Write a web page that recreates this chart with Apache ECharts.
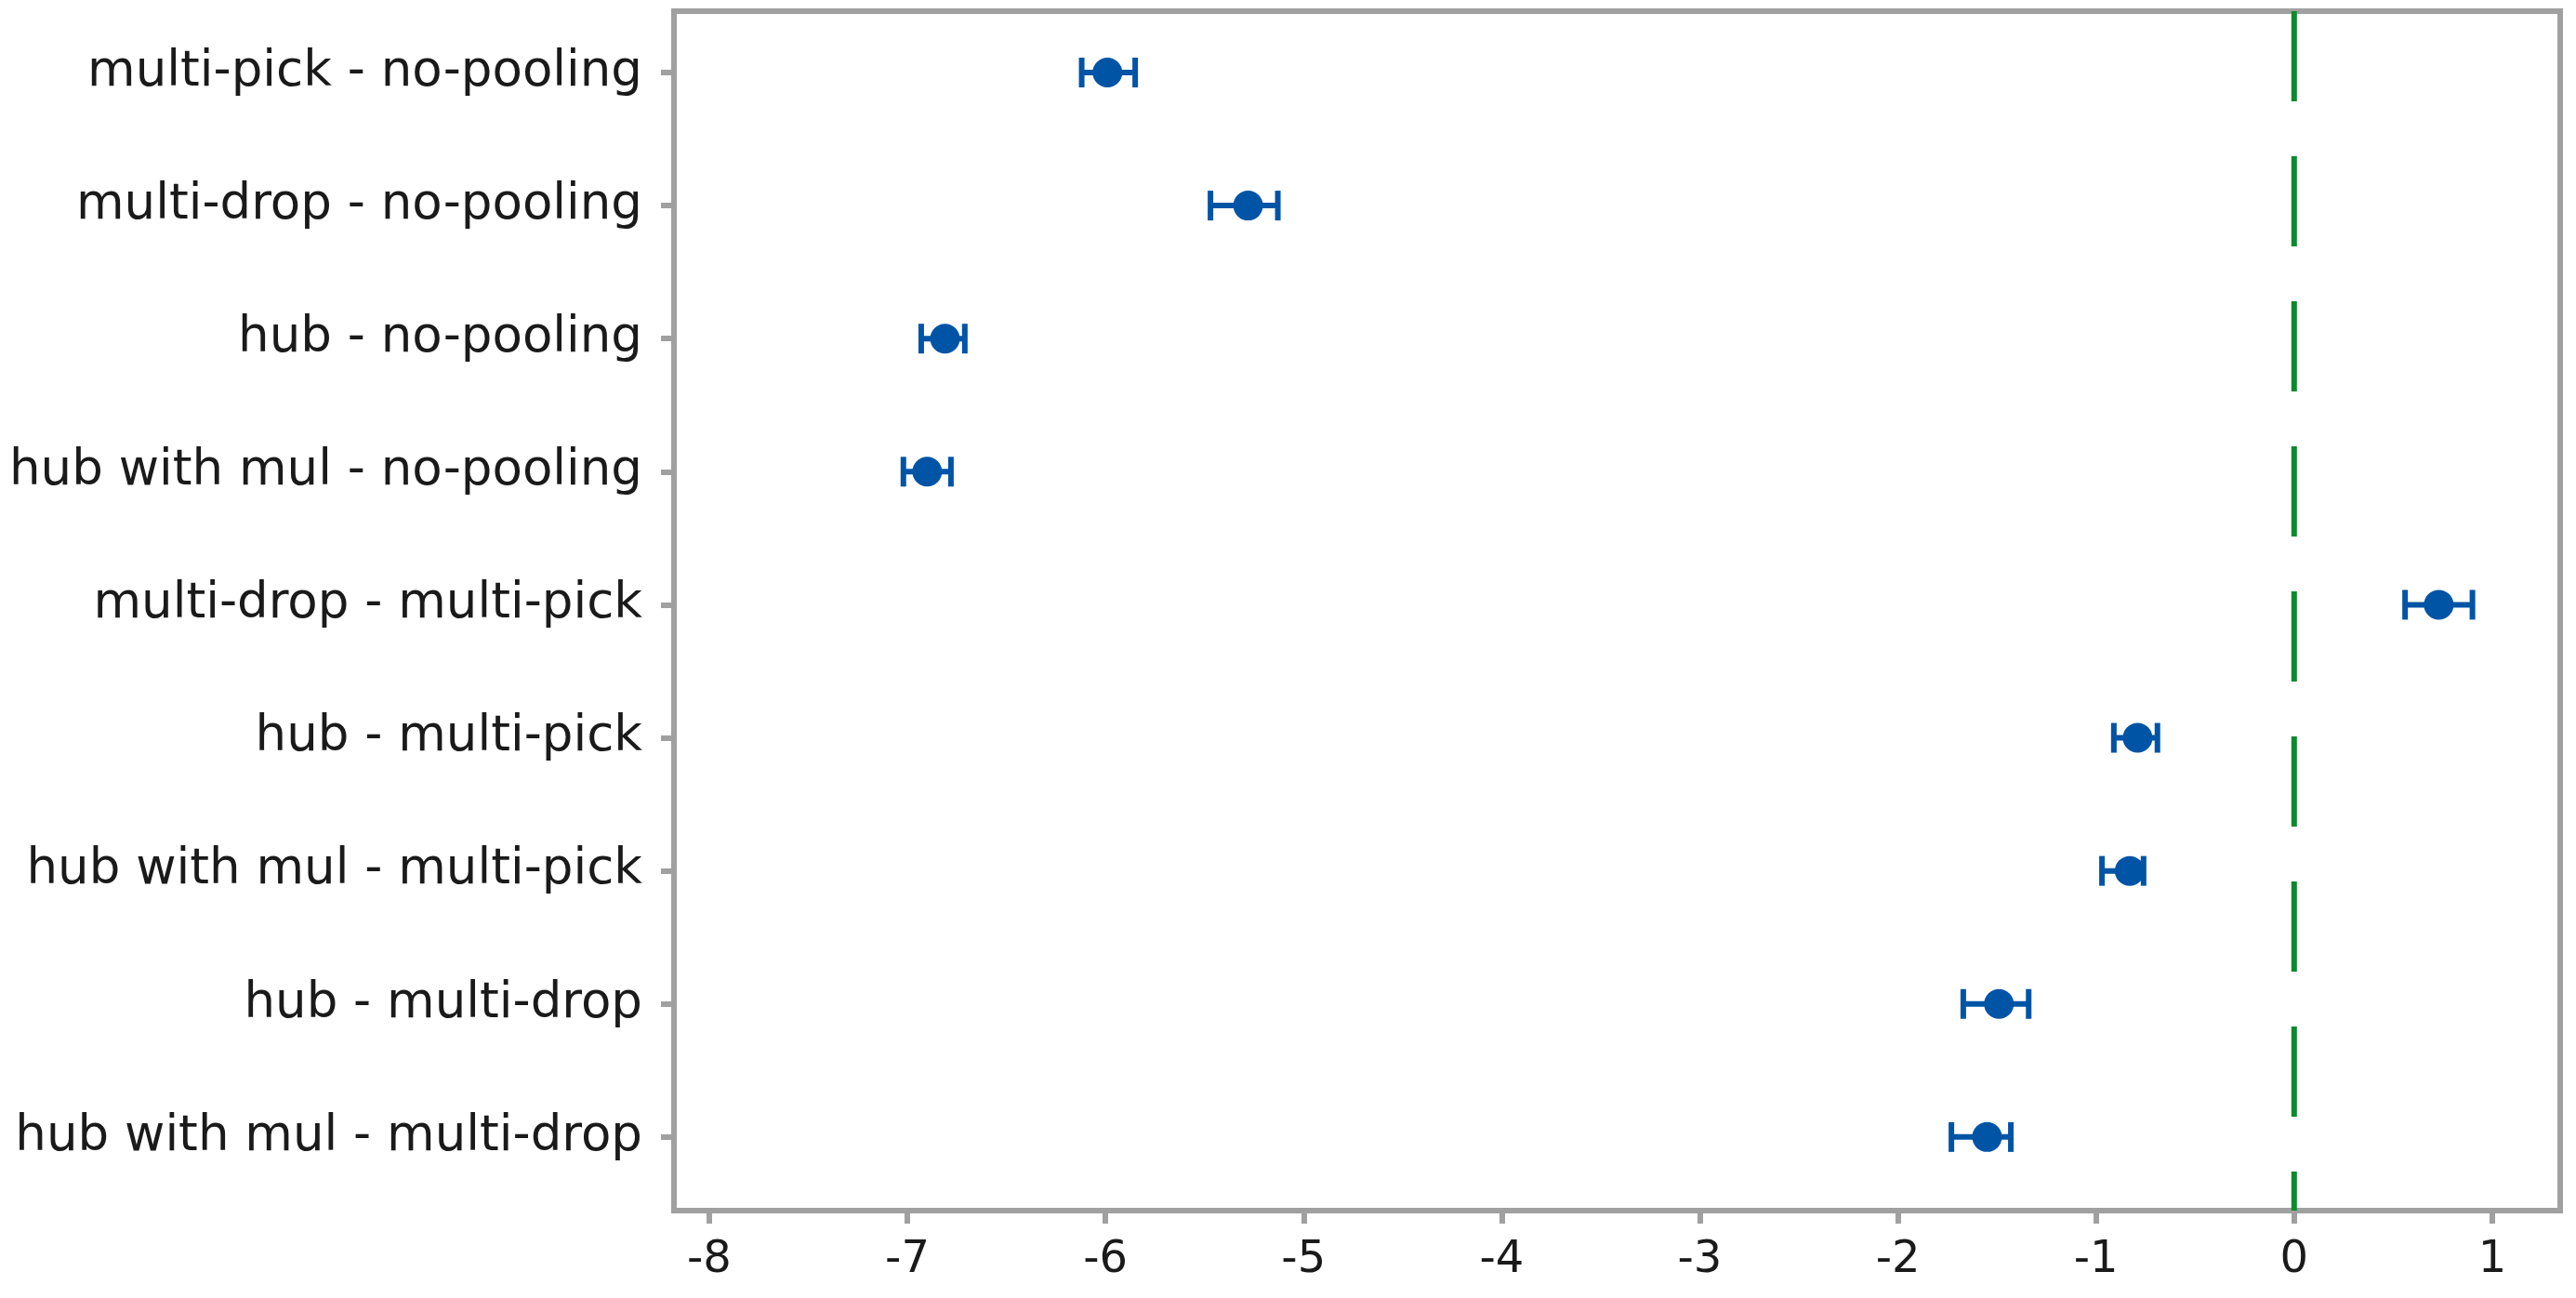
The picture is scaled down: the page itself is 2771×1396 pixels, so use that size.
<!DOCTYPE html>
<html>
<head>
<meta charset="utf-8">
<script src="https://cdn.jsdelivr.net/npm/echarts@6/dist/echarts.min.js"></script>
<style>
html,body{margin:0;padding:0;background:#fff;}
#chart{width:2771px;height:1396px;}
</style>
</head>
<body>
<div id="chart"></div>
<script>
const categories = [
  "multi-pick - no-pooling",
  "multi-drop - no-pooling",
  "hub - no-pooling",
  "hub with mul - no-pooling",
  "multi-drop - multi-pick",
  "hub - multi-pick",
  "hub with mul - multi-pick",
  "hub - multi-drop",
  "hub with mul - multi-drop"
];
const estimates = [-5.99, -5.28, -6.81, -6.90, 0.73, -0.79, -0.83, -1.49, -1.55];
const lower     = [-6.12, -5.47, -6.93, -7.02, 0.56, -0.91, -0.97, -1.67, -1.73];
const upper     = [-5.85, -5.13, -6.71, -6.78, 0.90, -0.69, -0.76, -1.34, -1.43];
const xTicks = [-8, -7, -6, -5, -4, -3, -2, -1, 0, 1];
const refValue = 0;

const rowIdx = categories.map((c, i) => i);
const yMin = -0.461, yMax = 8.553;
const FONT = '"DejaVu Sans", sans-serif';
const BLUE = '#0054A6';

const chart = echarts.init(document.getElementById('chart'), null, {renderer: 'canvas'});

const option = {
  animation: false,
  backgroundColor: '#ffffff',
  grid: {
    left: 725, right: 17, top: 12, bottom: 94,
    show: true, borderColor: '#a0a0a0', borderWidth: 6, backgroundColor: 'transparent'
  },
  xAxis: {
    type: 'value',
    position: 'bottom',
    min: -8.178, max: 1.343,
    axisLine: {show: false, onZero: false},
    splitLine: {show: false},
    axisTick: {show: true, customValues: xTicks, length: 14, lineStyle: {color: '#a0a0a0', width: 6}},
    axisLabel: {show: true, customValues: xTicks, margin: 30, color: '#1a1a1a', fontFamily: FONT, fontSize: 48}
  },
  yAxis: {
    type: 'value',
    position: 'left',
    inverse: true,
    min: yMin, max: yMax,
    axisLine: {show: false, onZero: false},
    splitLine: {show: false},
    axisTick: {show: true, customValues: rowIdx, length: 14, lineStyle: {color: '#a0a0a0', width: 6}},
    axisLabel: {
      show: true, customValues: rowIdx, margin: 34, color: '#1a1a1a', fontFamily: FONT, fontSize: 53,
      formatter: v => categories[Math.round(v)] || ''
    }
  },
  series: [
    {
      type: 'line',
      data: [[refValue, yMin], [refValue, yMax]],
      symbol: 'none',
      lineStyle: {color: '#0A8A2E', width: 6, type: [97, 59]},
      z: 5,
      silent: true
    },
    {
      type: 'custom',
      z: 10,
      data: categories.map((c, i) => [i, lower[i], estimates[i], upper[i]]),
      encode: {x: [1, 2, 3], y: 0},
      renderItem: function (params, api) {
        const i = api.value(0);
        const lo = api.coord([api.value(1), i]);
        const mid = api.coord([api.value(2), i]);
        const hi = api.coord([api.value(3), i]);
        const st = {stroke: BLUE, lineWidth: 6};
        return {
          type: 'group',
          children: [
            {type: 'line', shape: {x1: lo[0], y1: lo[1], x2: hi[0], y2: hi[1]}, style: st},
            {type: 'line', shape: {x1: lo[0], y1: lo[1] - 16, x2: lo[0], y2: lo[1] + 16}, style: st},
            {type: 'line', shape: {x1: hi[0], y1: hi[1] - 16, x2: hi[0], y2: hi[1] + 16}, style: st},
            {type: 'circle', shape: {cx: mid[0], cy: mid[1], r: 16}, style: {fill: BLUE}}
          ]
        };
      }
    }
  ]
};
chart.setOption(option);
</script>
</body>
</html>
